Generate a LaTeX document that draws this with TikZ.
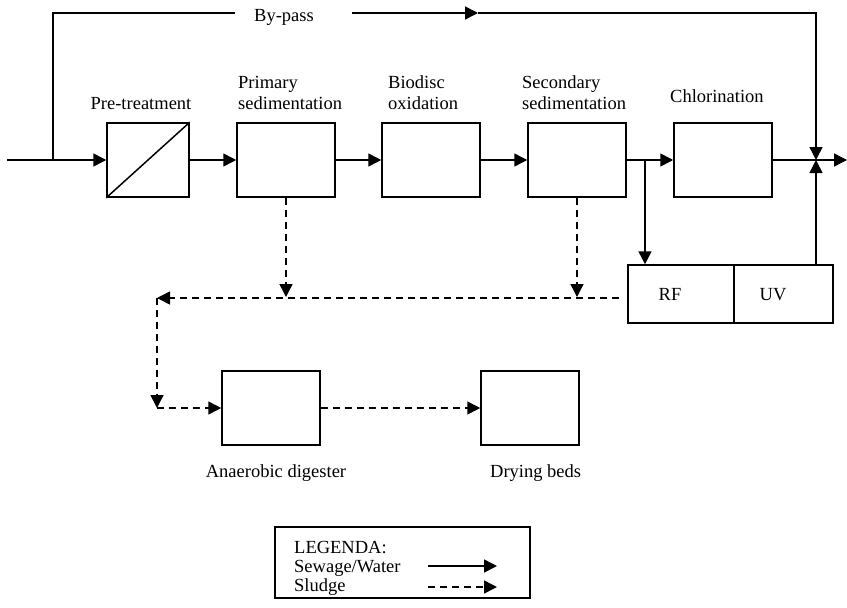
\documentclass[tikz,border=0pt]{standalone}
\usepackage{fontspec}
\setmainfont{Liberation Serif}
\usetikzlibrary{arrows.meta}
\begin{document}
\begin{tikzpicture}[x=1pt,y=-1pt,
  every node/.style={font=\fontsize{18.5}{21}\selectfont},
  box/.style={draw,line width=1.5pt,inner sep=0pt,minimum height=74pt},
  lbl/.style={inner sep=0pt,anchor=base west},
  flow/.style={line width=1.5pt,-{Triangle[length=13pt,width=13pt]}},
  pipe/.style={line width=1.5pt},
  sludge/.style={line width=1.5pt,dash pattern=on 7pt off 5pt,-{Triangle[length=13pt,width=13pt]}}]
\useasboundingbox (0,0) rectangle (847,608);
% process boxes
\node[box,minimum width=82pt] (pre) at (148,160) {};
\draw[line width=1.5pt] (pre.south west) -- (pre.north east);
\node[box,minimum width=98pt] (prim) at (286,160) {};
\node[box,minimum width=98pt] (bio) at (431,160) {};
\node[box,minimum width=98pt] (sec) at (577,160) {};
\node[box,minimum width=98pt] (chl) at (723,160) {};
\node[box,minimum width=106pt,minimum height=58pt] (rf) at (681,294) {};
\node[box,minimum width=99pt,minimum height=58pt] (uv) at (783.5,294) {};
\node[box,minimum width=98pt,minimum height=74pt] (ana) at (271,408) {};
\node[box,minimum width=98pt,minimum height=74pt] (dry) at (530,408) {};
\node[box,minimum width=255pt,minimum height=71pt] (leg) at (402.5,562.5) {};
% labels
\node[inner sep=0pt,anchor=base] (lpre) at (141,109) {Pre-treatment};
\node[lbl] (lprim1) at (238,88) {Primary};
\node[lbl] (lprim2) at (238,109) {sedimentation};
\node[lbl] (lbio1) at (388,88) {Biodisc};
\node[lbl] (lbio2) at (388,109) {oxidation};
\node[lbl] (lsec1) at (522,88) {Secondary};
\node[lbl] (lsec2) at (522,109) {sedimentation};
\node[lbl] (lchl) at (670,102) {Chlorination};
\node[inner sep=0pt,anchor=base] (lrf) at (670,300) {RF};
\node[inner sep=0pt,anchor=base] (luv) at (773,300) {UV};
\node[inner sep=0pt,anchor=base] (lana) at (276,477) {Anaerobic digester};
\node[lbl] (ldry) at (490,477) {Drying beds};
\node[inner sep=0pt,anchor=base] (lby) at (284,21) {By-pass};
\node[lbl] (lleg1) at (294,553) {LEGENDA:};
\node[lbl] (lleg2) at (294,572) {Sewage/Water};
\node[lbl] (lleg3) at (294,591) {Sludge};
% coordinates
\coordinate (in) at (7,160);
\coordinate (br) at (53,160);
\coordinate (bpl) at (235,13);
\coordinate (bpr) at (352,13);
\coordinate (bpa) at (478,13);
\coordinate (bpc) at (816,13);
\coordinate (jn) at (816,160);
\coordinate (out) at (847,160);
\coordinate (rfb) at (645,160);
\coordinate (uvt) at (816,265);
\coordinate (d1) at (286,297);
\coordinate (d2) at (577,297);
\coordinate (hs) at (619,298);
\coordinate (hl) at (157,298);
\coordinate (vl) at (157,408);
\coordinate (la1) at (428,566);
\coordinate (la2) at (497,566);
\coordinate (lb1) at (428,587);
\coordinate (lb2) at (497,587);
% sewage flow
\draw[flow] (in) -- (pre.west);
\draw[pipe] (br) |- (bpl);
\draw[flow] (bpr) -- (bpa);
\draw[flow] (bpa) -- (bpc) -- (jn);
\draw[flow] (pre.east) -- (prim.west);
\draw[flow] (prim.east) -- (bio.west);
\draw[flow] (bio.east) -- (sec.west);
\draw[flow] (sec.east) -- (chl.west);
\draw[flow] (chl.east) -- (out);
\draw[flow] (rfb) -- (rfb |- rf.north);
\draw[flow] (uvt) -- (jn);
% sludge flow
\draw[sludge] (prim.south) -- (d1);
\draw[sludge] (sec.south) -- (d2);
\draw[sludge] (hs) -- (hl);
\draw[sludge] (hl) -- (vl);
\draw[sludge] (vl) -- (ana.west);
\draw[sludge] (ana.east) -- (dry.west);
% legend arrows
\draw[flow] (la1) -- (la2);
\draw[sludge] (lb1) -- (lb2);
\end{tikzpicture}
\end{document}
